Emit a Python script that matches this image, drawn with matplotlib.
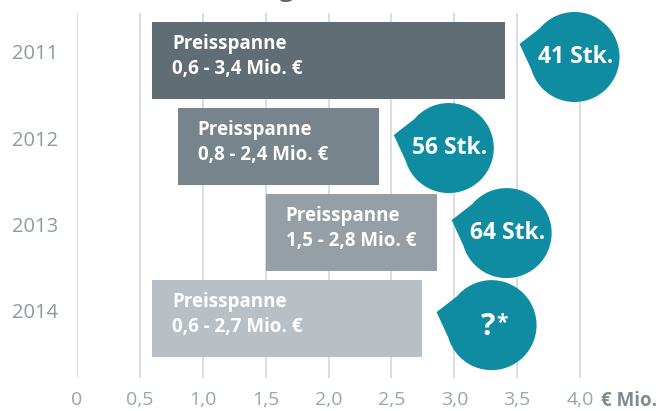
import matplotlib.pyplot as plt
import matplotlib.transforms as mtransforms
from matplotlib.patches import Circle, Polygon
import numpy as np

# Daten
years = ["2011", "2012", "2013", "2014"]
price_lo = [0.6, 0.8, 1.5, 0.6]
price_hi = [3.4, 2.4, 2.86, 2.74]
range_labels = ["0,6 - 3,4 Mio. €", "0,8 - 2,4 Mio. €", "1,5 - 2,8 Mio. €", "0,6 - 2,7 Mio. €"]
counts = ["41 Stk.", "56 Stk.", "64 Stk.", "?"]
x_ticks = [0, 0.5, 1.0, 1.5, 2.0, 2.5, 3.0, 3.5, 4.0]
x_ticklabels = ["0", "0,5", "1,0", "1,5", "2,0", "2,5", "3,0", "3,5", "4,0"]

bar_colors = ["#606d74", "#77848b", "#959fa5", "#b8c0c6"]
teal = "#0f8ca1"
grid_c = "#d6dbdf"
txt_gray = "#8e99a2"

plt.rcParams['font.family'] = ['Open Sans', 'DejaVu Sans']

W, H = 659, 411
fig = plt.figure(figsize=(W / 100, H / 100), dpi=100)
ax = fig.add_axes([77 / W, 33 / H, (655 - 77) / W, 365 / H])
ax.set_xlim(0, (655 - 77) / 125.75)
ax.set_ylim(3.69, -0.552)
ax.set_autoscale_on(False)

for v in x_ticks:
    ax.axvline(v, color=grid_c, lw=1.3, zorder=0)

ypos = np.arange(len(years))
ax.barh(ypos, np.array(price_hi) - np.array(price_lo), left=price_lo,
        height=0.9, color=bar_colors, zorder=2)

for i, (y, lo) in enumerate(zip(years, price_lo)):
    ax.text(-0.33, i - 0.07, y, ha='center', va='center', fontsize=14.5,
            color=txt_gray, clip_on=False)
    ax.annotate(f"Preisspanne\n{range_labels[i]}", xy=(lo, i), xytext=(14.4, 3),
                textcoords='offset points', ha='left', va='center',
                fontsize=13.5, fontweight='bold', color='white',
                linespacing=1.3, zorder=3)

# Sprechblasen (in Pixeln relativ zum Balkenende)
bubble_dy = [-3.5, 1.5, 0.5, 6.5]
R = 45
ang1, ang2 = np.radians(140), np.radians(196)
for i, hi in enumerate(price_hi):
    off = mtransforms.Affine2D().translate(70, -bubble_dy[i])
    tr = off + mtransforms.ScaledTranslation(hi, i, ax.transData)
    circ = Circle((0, 0), R, transform=tr, color=teal, clip_on=False, zorder=4, lw=0)
    tri = Polygon([(-55, 13), (R * np.cos(ang1), R * np.sin(ang1)),
                   (R * np.cos(ang2), R * np.sin(ang2))],
                  closed=True, transform=tr, color=teal, clip_on=False, zorder=4, lw=0)
    ax.add_patch(circ)
    ax.add_patch(tri)
    if counts[i] == "?":
        ax.text(-3, -2, "?", transform=tr, ha='center', va='center', fontsize=22,
                fontweight='bold', color='white', zorder=5)
        ax.text(10, 2, "*", transform=tr, ha='center', va='center', fontsize=15,
                fontweight='bold', color='white', zorder=5)
    else:
        ax.text(1, 0, counts[i], transform=tr, ha='center', va='center', fontsize=16.5,
                fontweight='bold', color='white', zorder=5)

ax.set_xticks(x_ticks)
ax.set_xticklabels(x_ticklabels, fontsize=14, color="#9aa5ad")
ax.tick_params(axis='x', length=0, pad=9)
ax.set_yticks([])
for s in ax.spines.values():
    s.set_visible(False)

fig.text(601 / W, 1 - 401 / H, "€ Mio.", ha='left', va='center', fontsize=13.5,
         fontweight='bold', color="#7f8a92")
# abgeschnittener Titel oben
fig.text(286 / W, 1 + 5 / H, "g", ha='center', va='baseline', fontsize=20, color="#5a656c")

fig.savefig("out.png", dpi=100)
